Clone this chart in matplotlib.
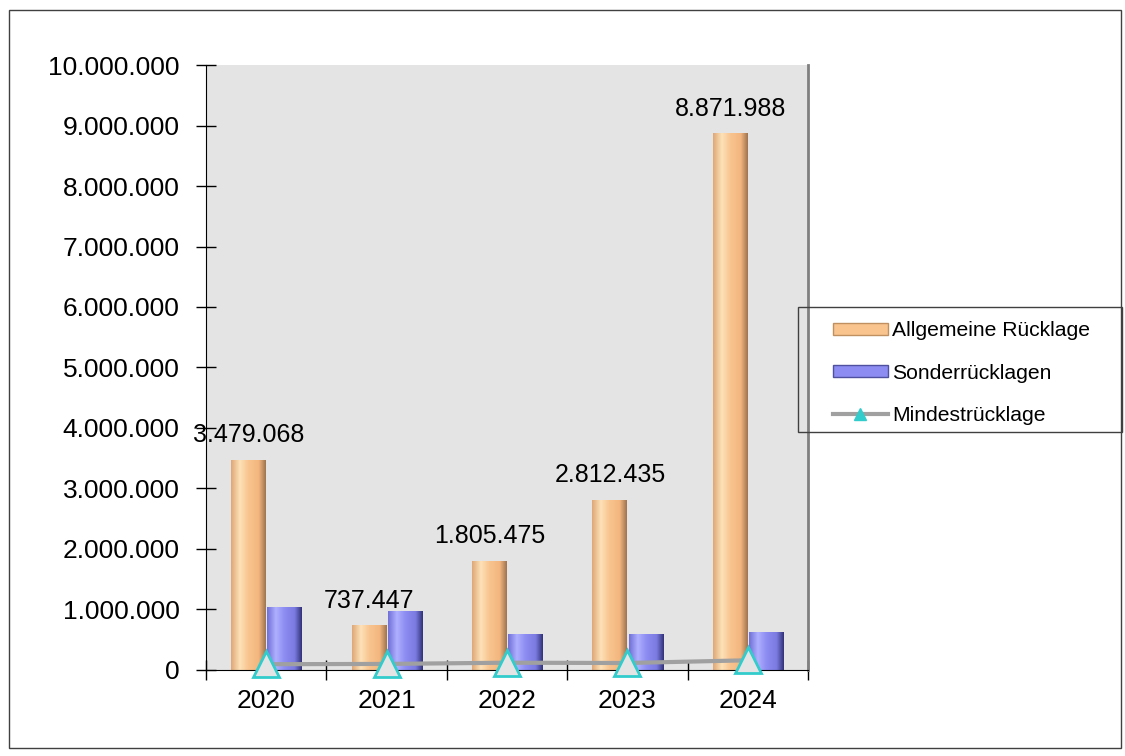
import numpy as np
import matplotlib
matplotlib.use("Agg")
import matplotlib.pyplot as plt
from matplotlib.patches import Rectangle
from matplotlib.lines import Line2D

plt.rcParams['font.family'] = ['Liberation Sans', 'DejaVu Sans']

# Data
years = ['2020', '2021', '2022', '2023', '2024']
allgemeine = [3479068, 737447, 1805475, 2812435, 8871988]
sonder = [1040000, 975000, 600000, 590000, 630000]
mindest = [95000, 100000, 120000, 115000, 160000]

orange_cols = ['#e0a878', '#fde2b8', '#f9c48e', '#f3b67f', '#a07650']
blue_cols = ['#7070d8', '#b0b0ff', '#8c8cf2', '#7a7ae0', '#34347a']


def shade_bars(ax, bars, cols):
    # horizontal gradient inside each bar for the cylinder look
    cmap = matplotlib.colors.LinearSegmentedColormap.from_list(
        'shade', list(zip([0, 0.25, 0.5, 0.8, 1.0], cols)))
    grad = np.linspace(0, 1, 64).reshape(1, -1)
    for b in bars:
        x0, y0 = b.get_x(), b.get_y()
        w, h = b.get_width(), b.get_height()
        im = ax.imshow(grad, cmap=cmap, extent=(x0, x0 + w, y0, y0 + h),
                       aspect='auto', zorder=2, interpolation='bilinear')
        im.set_clip_path(b)


fig = plt.figure(figsize=(11.25, 7.56), dpi=100)
ax = fig.add_axes([0.1831, 0.1138, 0.5351, 0.8002])
ax.set_facecolor('#e4e4e4')

x = np.arange(len(years))
width = 0.29
b1 = ax.bar(x - width / 2, allgemeine, width, color='#f9c48e', zorder=2)
b2 = ax.bar(x + width / 2 + 0.01, sonder, width, color='#8c8cf2', zorder=2)
shade_bars(ax, b1, orange_cols)
shade_bars(ax, b2, blue_cols)

ax.plot(x, mindest, color='#a0a0a0', lw=3, zorder=3)
ax.plot(x, mindest, ls='none', marker='^', markersize=19, markerfacecolor='#e4e4e4',
        markeredgecolor='#33cccc', markeredgewidth=2, zorder=4, clip_on=False)

for xi, v in zip(x, allgemeine):
    ax.annotate(f'{v:,.0f}'.replace(',', '.'), (xi - width / 2, v),
                xytext=(0, 9), textcoords='offset points',
                ha='center', va='bottom', fontsize=18, zorder=5)

ax.set_xlim(-0.5, len(years) - 0.5)
ax.set_ylim(0, 10000000)
yt = np.arange(0, 10000001, 1000000)
ax.set_yticks(yt)
ax.set_yticklabels([f'{v:,.0f}'.replace(',', '.') for v in yt], fontsize=19)
ax.set_xticks(np.arange(-0.5, len(years), 1.0))
ax.set_xticklabels([])
ax.set_xticks(x, minor=True)
ax.set_xticklabels(years, minor=True, fontsize=19)
ax.tick_params(axis='both', which='major', direction='inout', length=14, width=1)
ax.tick_params(axis='x', which='minor', length=0, pad=14)
ax.tick_params(axis='y', pad=12)

ax.spines['top'].set_visible(False)
ax.spines['right'].set_color('#808080')
ax.spines['right'].set_linewidth(2)

handles = [
    Rectangle((0, 0), 1, 1, facecolor='#f9c48e', edgecolor='#c09060'),
    Rectangle((0, 0), 1, 1, facecolor='#8c8cf2', edgecolor='#5050a0'),
    Line2D([], [], color='#a0a0a0', lw=3, marker='^', markersize=9,
           markerfacecolor='#33cccc', markeredgecolor='#33cccc'),
]
leg = fig.legend(handles, ['Allgemeine Rücklage', 'Sonderrücklagen', 'Mindestrücklage'],
                 loc='upper left', bbox_to_anchor=(0.7404, 0.575), fontsize=15.2,
                 frameon=False, handlelength=2.6, handleheight=0.5,
                 handletextpad=0.2, labelspacing=1.1, borderpad=0, borderaxespad=0)

# legend frame as in the reference
fig.patches.append(Rectangle((0.7093, 0.4286), 0.288, 0.1653, transform=fig.transFigure,
                             fill=False, edgecolor='#404040', lw=1))
# outer chart border
fig.patches.append(Rectangle((0.008, 0.0106), 0.988, 0.976, transform=fig.transFigure,
                             fill=False, edgecolor='#404040', lw=1))

fig.savefig('out.png', dpi=100)
